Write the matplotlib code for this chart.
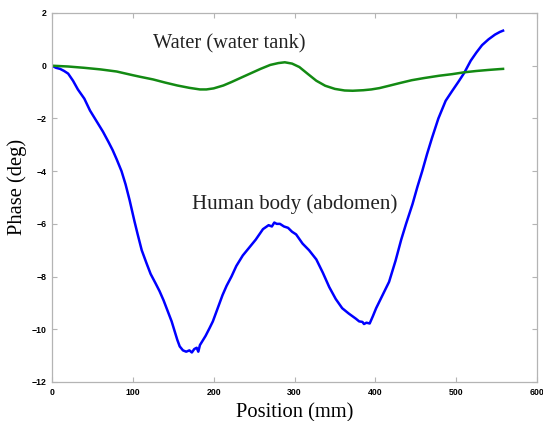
import numpy as np
import matplotlib
matplotlib.use('Agg')
import matplotlib.pyplot as plt

# Human body (abdomen) phase profile
body_pos = [
    0, 5, 10, 15, 20, 26, 32, 40, 47, 55, 63, 70, 75, 80, 86, 91, 96, 102,
    106, 111, 117, 122, 128, 133, 138, 143, 148, 152, 155, 158, 162, 166,
    170, 173, 176, 179, 181, 183, 186, 190, 195, 199, 205, 211, 216, 222,
    228, 236, 244, 252, 261, 268, 272, 275, 278, 282, 287, 292, 297, 302,
    310, 318, 327, 335, 343, 351, 359, 367, 376, 380, 384, 386, 389, 393,
    397, 401, 409, 417, 425, 432, 438, 446, 452, 458, 464, 470, 478, 487,
    495, 503, 510, 518, 525, 532, 540, 548, 554, 558]
body_phase = [
    0.0, -0.08, -0.12, -0.2, -0.3, -0.57, -0.9, -1.25, -1.7, -2.1, -2.5,
    -2.9, -3.2, -3.55, -4.0, -4.5, -5.1, -5.9, -6.4, -7.0, -7.5, -7.9,
    -8.25, -8.55, -8.9, -9.3, -9.7, -10.1, -10.4, -10.65, -10.8, -10.85,
    -10.8, -10.88, -10.75, -10.7, -10.85, -10.6, -10.45, -10.25, -9.95,
    -9.7, -9.2, -8.7, -8.35, -8.0, -7.6, -7.2, -6.9, -6.6, -6.2, -6.05,
    -6.1, -5.95, -6.0, -6.0, -6.1, -6.15, -6.3, -6.4, -6.75, -7.0, -7.35,
    -7.85, -8.4, -8.85, -9.2, -9.4, -9.6, -9.7, -9.72, -9.8, -9.75, -9.78,
    -9.5, -9.2, -8.7, -8.2, -7.4, -6.6, -6.0, -5.25, -4.6, -4.0, -3.35,
    -2.75, -2.0, -1.33, -0.96, -0.6, -0.27, 0.19, 0.5, 0.78, 1.0, 1.18,
    1.28, 1.33]

# Water tank phase profile
water_pos = [
    0, 20, 40, 60, 80, 100, 109, 125, 140, 155, 170, 183, 191, 200, 212,
    222, 232, 245, 258, 270, 280, 288, 297, 306, 316, 327, 338, 350, 362,
    372, 385, 395, 405, 417, 430, 445, 460, 479, 495, 510, 525, 540, 553,
    558]
water_phase = [
    0.0, -0.03, -0.08, -0.14, -0.22, -0.36, -0.42, -0.52, -0.64, -0.75,
    -0.84, -0.9, -0.9, -0.86, -0.75, -0.62, -0.48, -0.3, -0.12, 0.03, 0.1,
    0.13, 0.08, -0.05, -0.3, -0.57, -0.76, -0.88, -0.94, -0.95, -0.93,
    -0.9, -0.85, -0.76, -0.66, -0.55, -0.47, -0.38, -0.32, -0.25, -0.2,
    -0.16, -0.13, -0.12]

x_ticks = [0, 100, 200, 300, 400, 500, 600]
y_ticks = [2, 0, -2, -4, -6, -8, -10, -12]


def main():
    serif = ['Liberation Serif', 'DejaVu Serif']

    fig = plt.figure(figsize=(5.43, 4.21), dpi=100)
    ax = fig.add_axes([52 / 543, 39 / 421, 485 / 543, 369 / 421])

    ax.plot(body_pos, body_phase, c='#0000ff', lw=1.8)
    ax.plot(water_pos, water_phase, c='#138a13', lw=1.8)

    ax.set_xlim(0, 600)
    ax.set_ylim(-12, 2)
    ax.set_xticks(x_ticks)
    ax.set_yticks(y_ticks)

    ax.tick_params(
        direction='in', length=3.5, width=0.8, color='#b4b4b4',
        top=True, right=True, labelsize=6.3, pad=4)
    for lbl in ax.get_xticklabels() + ax.get_yticklabels():
        lbl.set_fontweight('bold')
        lbl.set_family(['Liberation Sans', 'DejaVu Sans'])

    for sp in ax.spines.values():
        sp.set_color('#b4b4b4')
        sp.set_linewidth(0.9)

    ax.set_xlabel('Position (mm)', family=serif, fontsize=14.8, labelpad=4.5)
    ax.set_ylabel('Phase (deg)', family=serif, fontsize=14.8)
    ax.yaxis.set_label_coords(-0.052, 0.528)

    ax.text(125, 0.65, 'Water (water tank)', family=serif, fontsize=14.7,
            color='#222222')
    ax.text(173, -5.44, 'Human body (abdomen)', family=serif, fontsize=15.1,
            color='#222222')

    fig.savefig('out.png', dpi=100)
    plt.close(fig)
    return


if __name__ == '__main__':
    main()
